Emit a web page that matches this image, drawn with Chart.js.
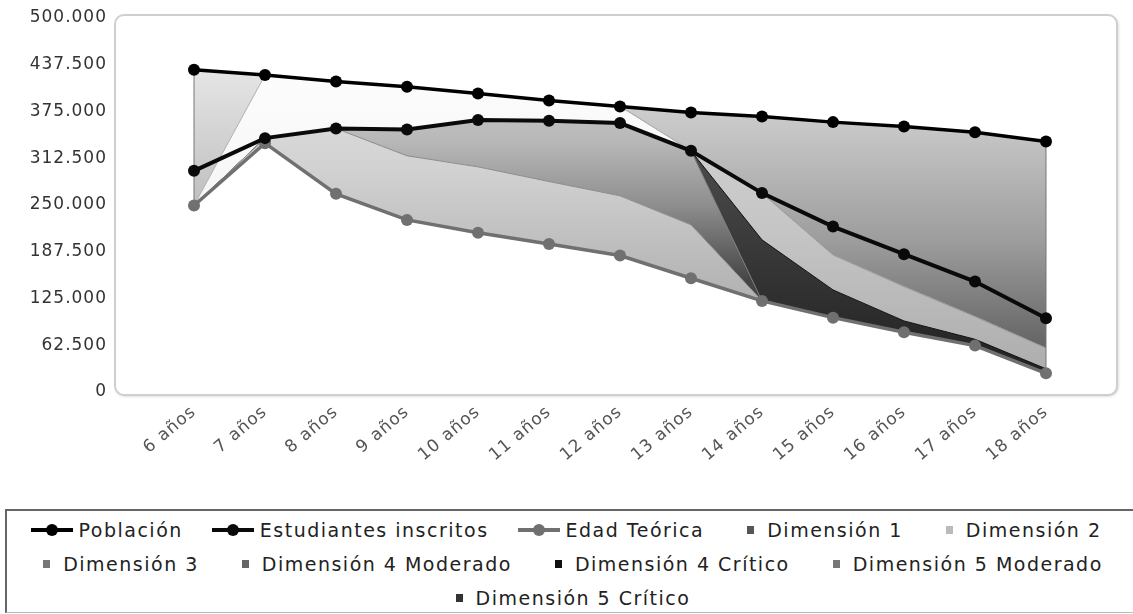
<!DOCTYPE html>
<html>
<head>
<meta charset="utf-8">
<script src="https://cdn.jsdelivr.net/npm/chart.js@4.4.1/dist/chart.umd.min.js"></script>
<style>
	html, body { margin: 0; padding: 0; background: #fff; overflow: hidden; width: 1133px; height: 614px; }
	#wrap { position: absolute; left: 0; top: 0; width: 1133px; height: 505px; }
	#legend {
		position: absolute; left: 5px; top: 509px; width: 1140px; height: 104px;
		box-sizing: border-box; border: 2px solid #666; border-bottom: 1px solid #bbb;
		padding-top: 2px; font-family: "DejaVu Sans"; font-size: 19px; letter-spacing: 1.5px; color: #222;
	}
	.rows { width: 1118px; }
	.row { display: flex; justify-content: center; align-items: center; height: 34px; gap: 29px; }
	.item { display: flex; align-items: center; white-space: nowrap; }
	.mk { position: relative; display: inline-block; width: 42px; height: 20px; margin-right: 6px; }
	.mk.sq { width: 30px; margin-right: 4px; }
	.mk.line::before { content: ""; position: absolute; left: 0; right: 0; top: 8px; height: 4px; background: var(--c); }
	.mk.line i { position: absolute; left: 15px; top: 4px; width: 12px; height: 12px; border-radius: 50%; background: var(--c); }
	.mk.sq i { position: absolute; left: 14px; top: 6px; width: 7px; height: 8px; background: var(--c); }
</style>
</head>
<body>
<div id="wrap"><canvas id="chart" width="1133" height="505"></canvas></div>
<div id="legend"><div class="rows" id="legend-rows"></div></div>
<script>
const categories = ["6 años", "7 años", "8 años", "9 años", "10 años", "11 años", "12 años",
	"13 años", "14 años", "15 años", "16 años", "17 años", "18 años"];

const yTicks = [0, 62500, 125000, 187500, 250000, 312500, 375000, 437500, 500000];

// lines
const poblacion = [430800, 423700, 415200, 408100, 399100, 389800, 381800, 373700, 368400, 360800, 355000, 347400, 334900];
const inscritos = [295700, 339400, 352300, 351000, 363500, 362600, 359500, 322400, 265900, 221200, 184200, 147600, 98600];
const edadTeorica = [249300, 332700, 264900, 230100, 212800, 198000, 182400, 152100, 121800, 99400, 79900, 62000, 25000];

// stacked areas on top of Edad Teórica
const dim4Moderado = [0, 6700, 87400, 85700, 88200, 83400, 79900, 71400, 0, 0, 0, 0, 0];
const dim4Critico = [0, 0, 0, 35200, 62500, 81200, 97200, 98900, 0, 0, 0, 0, 0];
const dim5Critico = [0, 0, 0, 0, 0, 0, 0, 0, 81600, 37100, 15100, 8500, 6000];
const dim5Moderado = [0, 0, 0, 0, 0, 0, 0, 0, 62500, 46800, 45900, 30200, 27500];
const dim2 = [0, 84300, 62900, 57100, 35600, 27200, 22300, 0, 0, 0, 0, 0, 0];
const dim1 = [181500, 0, 0, 0, 0, 0, 0, 0, 0, 0, 0, 0, 0];
const dim3 = [0, 0, 0, 0, 0, 0, 0, 51300, 102500, 177500, 214100, 246700, 276400];

// legend rows, in the order the legend shows them
const legendRows = [
	["Población", "Estudiantes inscritos", "Edad Teórica", "Dimensión 1", "Dimensión 2"],
	["Dimensión 3", "Dimensión 4 Moderado", "Dimensión 4 Crítico", "Dimensión 5 Moderado"],
	["Dimensión 5 Crítico"],
];

const fmt = (v) => String(v).replace(/\B(?=(\d{3})+(?!\d))/g, ".");

const gradient = (stops, fallback) => (context) => {
	const area = context.chart.chartArea;
	if (!area) return fallback;
	const g = context.chart.ctx.createLinearGradient(0, area.top, 0, area.bottom);
	stops.forEach(([o, c]) => g.addColorStop(o, c));
	return g;
};

const lineSet = (label, data, color, width, stack) => ({
	label,
	data,
	stack,
	borderColor: color,
	backgroundColor: color,
	borderWidth: width,
	pointRadius: 6,
	pointBackgroundColor: color,
	pointBorderWidth: 0,
	fill: false,
	kind: "line",
});

const areaSet = (label, data, swatch, border, stops) => ({
	label,
	data,
	stack: "dim",
	borderColor: border,
	borderWidth: 1,
	backgroundColor: gradient(stops, swatch),
	pointRadius: 0,
	pointHoverRadius: 0,
	fill: "-1",
	swatch,
	kind: "area",
});

const datasets = [
	lineSet("Población", poblacion, "#000", 3.5, "pob"),
	lineSet("Estudiantes inscritos", inscritos, "#0a0a0a", 4, "est"),
	lineSet("Edad Teórica", edadTeorica, "#707070", 3.5, "dim"),
	areaSet("Dimensión 4 Moderado", dim4Moderado, "#666", "#8a8a8a",
		[[0, "#e8e8e8"], [0.4, "#d2d2d2"], [0.65, "#bababa"], [1, "#a0a0a0"]]),
	areaSet("Dimensión 4 Crítico", dim4Critico, "#111", "#7a7a7a",
		[[0, "#dadada"], [0.33, "#b8b8b8"], [0.5, "#8e8e8e"], [0.7, "#464646"], [1, "#2a2a2a"]]),
	areaSet("Dimensión 5 Crítico", dim5Critico, "#333", "#111",
		[[0, "#666"], [0.6, "#3a3a3a"], [1, "#1e1e1e"]]),
	areaSet("Dimensión 5 Moderado", dim5Moderado, "#777", "#9a9a9a",
		[[0, "#dcdcdc"], [0.55, "#c6c6c6"], [1, "#aaaaaa"]]),
	areaSet("Dimensión 2", dim2, "#bbb", "#b0b0b0",
		[[0, "#ffffff"], [1, "#ececec"]]),
	areaSet("Dimensión 1", dim1, "#555", "#888",
		[[0, "#f4f4f4"], [0.62, "#b2b2b2"], [1, "#888"]]),
	areaSet("Dimensión 3", dim3, "#777", "#888",
		[[0, "#e6e6e6"], [0.3, "#c6c6c6"], [0.6, "#9c9c9c"], [0.86, "#686868"], [1, "#555"]]),
];

// rounded frame around the plot
const framePlugin = {
	id: "frame",
	beforeUpdate(chart) {
		chart.ctx.letterSpacing = "1px";
	},
	beforeDraw(chart) {
		const { ctx, chartArea: a } = chart;
		ctx.letterSpacing = "1px";
		const x0 = a.left - 79, x1 = a.right + 71, y0 = a.top - 3, y1 = a.bottom + 3, r = 9;
		ctx.save();
		ctx.shadowColor = "rgba(0,0,0,0.25)";
		ctx.shadowBlur = 3;
		ctx.shadowOffsetX = 1;
		ctx.shadowOffsetY = 1;
		ctx.beginPath();
		ctx.moveTo(x0 + r, y0);
		ctx.arcTo(x1, y0, x1, y1, r);
		ctx.arcTo(x1, y1, x0, y1, r);
		ctx.arcTo(x0, y1, x0, y0, r);
		ctx.arcTo(x0, y0, x1, y0, r);
		ctx.closePath();
		ctx.fillStyle = "#fff";
		ctx.fill();
		ctx.shadowColor = "transparent";
		ctx.strokeStyle = "#cfcfcf";
		ctx.lineWidth = 2;
		ctx.stroke();
		ctx.restore();
	},
	// side edges of the stacked areas, drawn under the two top lines
	beforeDatasetDraw(chart, args) {
		if (args.index !== 1) return;
		const { ctx, scales } = chart;
		const last = categories.length - 1;
		ctx.save();
		ctx.strokeStyle = "#777";
		ctx.lineWidth = 1;
		[0, last].forEach((i) => {
			const x = scales.x.getPixelForValue(i);
			ctx.beginPath();
			ctx.moveTo(x, scales.y.getPixelForValue(poblacion[i]));
			ctx.lineTo(x, scales.y.getPixelForValue(edadTeorica[i]));
			ctx.stroke();
		});
		ctx.restore();
	},
};

const chart = new Chart(document.getElementById("chart"), {
	type: "line",
	data: { labels: categories, datasets },
	options: {
		responsive: false,
		animation: false,
		devicePixelRatio: 1,
		layout: { padding: { top: 18, right: 87, left: 0, bottom: 0 } },
		elements: { line: { tension: 0 } },
		scales: {
			x: {
				grid: { display: false, drawTicks: false },
				border: { display: false },
				ticks: {
					autoSkip: false,
					minRotation: 40,
					maxRotation: 40,
					padding: 10,
					color: "#555",
					font: { family: "DejaVu Sans", size: 17 },
				},
				afterFit: (s) => { s.height = 113; },
			},
			y: {
				stacked: true,
				min: 0,
				max: 500000,
				grid: { display: false, drawTicks: false },
				border: { display: false },
				afterBuildTicks: (s) => { s.ticks = yTicks.map((v) => ({ value: v })); },
				ticks: {
					padding: 87,
					color: "#333",
					font: { family: "DejaVu Sans", size: 17 },
					callback: (v) => fmt(v),
				},
				afterFit: (s) => {
					s.width = 194;
					s.paddingTop = 10;
					s.paddingBottom = 10;
				},
			},
		},
		plugins: {
			legend: { display: false },
			tooltip: { enabled: false },
		},
	},
	plugins: [framePlugin],
});

//------------html legend----------
const rowsEl = document.getElementById("legend-rows");
legendRows.forEach((row) => {
	const rowEl = document.createElement("div");
	rowEl.className = "row";
	row.forEach((label) => {
		const ds = chart.data.datasets.find((d) => d.label === label);
		const item = document.createElement("span");
		item.className = "item";
		const mk = document.createElement("span");
		mk.className = ds.kind === "line" ? "mk line" : "mk sq";
		mk.style.setProperty("--c", ds.kind === "line" ? ds.borderColor : ds.swatch);
		mk.appendChild(document.createElement("i"));
		const tx = document.createElement("span");
		tx.textContent = ds.label;
		item.appendChild(mk);
		item.appendChild(tx);
		rowEl.appendChild(item);
	});
	rowsEl.appendChild(rowEl);
});
</script>
</body>
</html>
